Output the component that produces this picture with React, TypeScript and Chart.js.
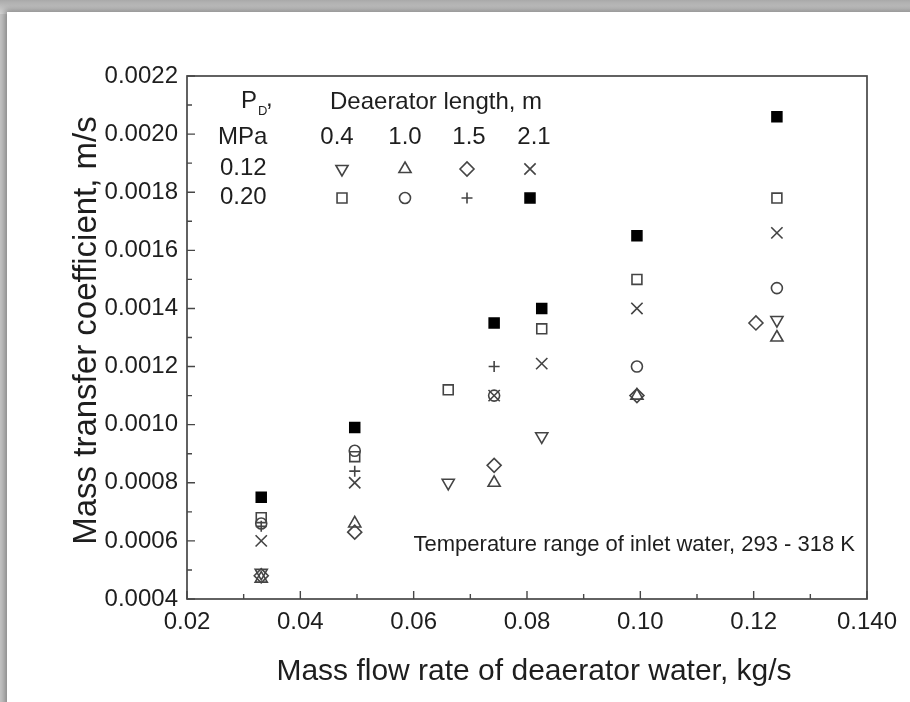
import React, { useEffect, useRef } from 'react';
import { Chart, registerables } from 'chart.js';
import { drawPoint } from 'chart.js/helpers';

Chart.register(...registerables);

// ---- axes ----
const xTickValues = [0.02, 0.04, 0.06, 0.08, 0.1, 0.12, 0.14];
const xTickLabels = ['0.02', '0.04', '0.06', '0.08', '0.10', '0.12', '0.140'];
const xMinorValues = [0.03, 0.05, 0.07, 0.09, 0.11, 0.13];
const yTickValues = [0.0004, 0.0006, 0.0008, 0.001, 0.0012, 0.0014, 0.0016, 0.0018, 0.002, 0.0022];
const yTickLabels = ['0.0004', '0.0006', '0.0008', '0.0010', '0.0012', '0.0014', '0.0016', '0.0018', '0.0020', '0.0022'];
const yMinorValues = [0.0005, 0.0007, 0.0009, 0.0011, 0.0013, 0.0015, 0.0017, 0.0019, 0.0021];

const xTitle = 'Mass flow rate of deaerator water, kg/s';
const yTitle = 'Mass transfer coefficient, m/s';
const noteText = 'Temperature range of inlet water, 293 - 318 K';

// ---- legend table text ----
const lengthHeader = 'Deaerator length, m';
const lengthLabels = ['0.4', '1.0', '1.5', '2.1'];
const pressureLabels = ['0.12', '0.20'];

// ---- data: P_D = 0.12 MPa ----
const p012_L04 = [
  { x: 0.0331, y: 0.00049 },
  { x: 0.0661, y: 0.0008 },
  { x: 0.0826, y: 0.00096 },
  { x: 0.1241, y: 0.00136 },
];
const p012_L10 = [
  { x: 0.0331, y: 0.00047 },
  { x: 0.0496, y: 0.00066 },
  { x: 0.0742, y: 0.0008 },
  { x: 0.0994, y: 0.0011 },
  { x: 0.1241, y: 0.0013 },
];
const p012_L15 = [
  { x: 0.0331, y: 0.00048 },
  { x: 0.0496, y: 0.00063 },
  { x: 0.0742, y: 0.00086 },
  { x: 0.0994, y: 0.0011 },
  { x: 0.1204, y: 0.00135 },
];
const p012_L21 = [
  { x: 0.0331, y: 0.0006 },
  { x: 0.0496, y: 0.0008 },
  { x: 0.0742, y: 0.0011 },
  { x: 0.0826, y: 0.00121 },
  { x: 0.0994, y: 0.0014 },
  { x: 0.1241, y: 0.00166 },
];
// ---- data: P_D = 0.20 MPa ----
const p020_L04 = [
  { x: 0.0331, y: 0.00068 },
  { x: 0.0496, y: 0.00089 },
  { x: 0.0661, y: 0.00112 },
  { x: 0.0826, y: 0.00133 },
  { x: 0.0994, y: 0.0015 },
  { x: 0.1241, y: 0.00178 },
];
const p020_L10 = [
  { x: 0.0331, y: 0.00066 },
  { x: 0.0496, y: 0.00091 },
  { x: 0.0742, y: 0.0011 },
  { x: 0.0994, y: 0.0012 },
  { x: 0.1241, y: 0.00147 },
];
const p020_L15 = [
  { x: 0.0331, y: 0.00065 },
  { x: 0.0496, y: 0.00084 },
  { x: 0.0742, y: 0.0012 },
];
const p020_L21 = [
  { x: 0.0331, y: 0.00075 },
  { x: 0.0496, y: 0.00099 },
  { x: 0.0742, y: 0.00135 },
  { x: 0.0826, y: 0.0014 },
  { x: 0.0994, y: 0.00165 },
  { x: 0.1241, y: 0.00206 },
];

const FONT = "'Liberation Sans', Arial, sans-serif";
const TEXT = '#1e1e1e';
const MARK = '#444444';
const AXIS = '#474747';

const mk = (label: string, data: any[], pointStyle: string, radius: number, rotation = 0, filled = false) => ({
  label,
  data,
  pointStyle,
  rotation,
  pointRadius: radius,
  pointHoverRadius: radius,
  pointBorderWidth: 1.6,
  pointBorderColor: filled ? '#000' : MARK,
  pointBackgroundColor: filled ? '#000' : 'rgba(0,0,0,0)',
  showLine: false,
});

const findLabel = (vals: number[], labels: string[], v: number) => {
  const i = vals.findIndex((t) => Math.abs(t - v) < 1e-9);
  return i >= 0 ? labels[i] : '';
};

const decorPlugin = {
  id: 'decor',
  afterDraw(chart: any) {
    const { ctx, chartArea: ca, scales } = chart;
    const xs = scales.x;
    const ys = scales.y;
    ctx.save();
    // frame
    ctx.strokeStyle = AXIS;
    ctx.lineWidth = 1.7;
    ctx.strokeRect(ca.left, ca.top, ca.right - ca.left, ca.bottom - ca.top);
    // inward ticks
    ctx.lineWidth = 1.4;
    ctx.beginPath();
    xTickValues.forEach((v) => {
      const px = xs.getPixelForValue(v);
      ctx.moveTo(px, ca.bottom);
      ctx.lineTo(px, ca.bottom - 8);
    });
    xMinorValues.forEach((v) => {
      const px = xs.getPixelForValue(v);
      ctx.moveTo(px, ca.bottom);
      ctx.lineTo(px, ca.bottom - 5);
    });
    yTickValues.forEach((v) => {
      const py = ys.getPixelForValue(v);
      ctx.moveTo(ca.left, py);
      ctx.lineTo(ca.left + 8, py);
    });
    yMinorValues.forEach((v) => {
      const py = ys.getPixelForValue(v);
      ctx.moveTo(ca.left, py);
      ctx.lineTo(ca.left + 5, py);
    });
    ctx.stroke();

    // axis titles
    ctx.fillStyle = TEXT;
    ctx.save();
    ctx.translate(ca.left - 100, (ca.top + ca.bottom) / 2 - 7);
    ctx.rotate(-Math.PI / 2);
    ctx.textAlign = 'center';
    ctx.textBaseline = 'middle';
    ctx.font = `33px ${FONT}`;
    ctx.fillText(yTitle, 0, 0);
    ctx.restore();
    ctx.textAlign = 'center';
    ctx.textBaseline = 'middle';
    ctx.font = `30px ${FONT}`;
    ctx.fillText(xTitle, (ca.left + ca.right) / 2 + 7, ca.bottom + 73);

    // legend table
    const L = ca.left;
    const T = ca.top;
    ctx.fillStyle = TEXT;
    ctx.textBaseline = 'middle';
    ctx.textAlign = 'left';
    ctx.font = `24px ${FONT}`;
    ctx.fillText('P', L + 54, T + 25);
    ctx.font = `13px ${FONT}`;
    ctx.fillText('D', L + 71, T + 35);
    ctx.font = `24px ${FONT}`;
    ctx.fillText(',', L + 79, T + 23);
    ctx.fillText(lengthHeader, L + 143, T + 26);
    ctx.fillText('MPa', L + 31, T + 61);
    ctx.textAlign = 'center';
    const colX = [342, 405, 467, 530].map((c) => c - 187 + L);
    const colTextX = [337, 405, 469, 534].map((c) => c - 187 + L);
    lengthLabels.forEach((t, i) => ctx.fillText(t, colTextX[i], T + 61));
    ctx.textAlign = 'left';
    const rowY = [T + 92, T + 121];
    pressureLabels.forEach((t, r) => ctx.fillText(t, L + 33, rowY[r]));

    chart.data.datasets.forEach((ds: any, i: number) => {
      const r = Math.floor(i / 4);
      const c = i % 4;
      ctx.save();
      ctx.strokeStyle = ds.pointBorderColor;
      ctx.fillStyle = ds.pointBackgroundColor;
      ctx.lineWidth = ds.pointBorderWidth;
      drawPoint(ctx, { pointStyle: ds.pointStyle, rotation: ds.rotation, radius: ds.pointRadius, borderWidth: ds.pointBorderWidth }, colX[c], rowY[r] + 1);
      ctx.restore();
    });

    // note
    ctx.fillStyle = TEXT;
    ctx.textAlign = 'right';
    ctx.font = `22px ${FONT}`;
    ctx.fillText(noteText, ca.right - 12, ys.getPixelForValue(0.0004) - 54);
    ctx.restore();
  },
};

export default function App() {
  const ref = useRef<HTMLCanvasElement | null>(null);
  useEffect(() => {
    if (!ref.current) return;
    const chart = new Chart(ref.current, {
      type: 'scatter',
      data: {
        datasets: [
          mk('0.12 MPa, 0.4 m', p012_L04, 'triangle', 7, 180),
          mk('0.12 MPa, 1.0 m', p012_L10, 'triangle', 7),
          mk('0.12 MPa, 1.5 m', p012_L15, 'rectRot', 7),
          mk('0.12 MPa, 2.1 m', p012_L21, 'crossRot', 8),
          mk('0.20 MPa, 0.4 m', p020_L04, 'rect', 7),
          mk('0.20 MPa, 1.0 m', p020_L10, 'circle', 5.5),
          mk('0.20 MPa, 1.5 m', p020_L15, 'cross', 5.5),
          mk('0.20 MPa, 2.1 m', p020_L21, 'rect', 7, 0, true),
        ],
      },
      options: {
        responsive: false,
        animation: false,
        devicePixelRatio: 1,
        layout: { padding: { left: 0, top: 76, right: 43, bottom: 0 } },
        plugins: { legend: { display: false }, tooltip: { enabled: false } },
        scales: {
          x: {
            type: 'linear',
            min: 0.02,
            max: 0.14,
            afterBuildTicks: (s: any) => {
              s.ticks = xTickValues.map((v) => ({ value: v }));
            },
            afterFit: (s: any) => {
              s.height = 103;
            },
            grid: { display: false, drawTicks: false },
            border: { display: false },
            ticks: {
              autoSkip: false,
              maxRotation: 0,
              padding: 9,
              color: TEXT,
              font: { family: FONT, size: 24 },
              callback: (v: any) => findLabel(xTickValues, xTickLabels, Number(v)),
            },
            title: { display: false },
          },
          y: {
            type: 'linear',
            min: 0.0004,
            max: 0.0022,
            afterBuildTicks: (s: any) => {
              s.ticks = yTickValues.map((v) => ({ value: v }));
            },
            afterFit: (s: any) => {
              s.width = 187;
            },
            grid: { display: false, drawTicks: false },
            border: { display: false },
            ticks: {
              autoSkip: false,
              padding: 9,
              color: TEXT,
              font: { family: FONT, size: 24 },
              callback: (v: any) => findLabel(yTickValues, yTickLabels, Number(v)),
            },
            title: { display: false },
          },
        },
      },
      plugins: [decorPlugin],
    } as any);
    return () => chart.destroy();
  }, []);

  return (
    <div style={{ position: 'fixed', left: 0, top: 0, width: 910, height: 702, overflow: 'hidden', background: '#c4c4c4' }}>
      <div
        style={{
          position: 'absolute',
          left: 0,
          top: 0,
          width: 910,
          height: 14,
          background: 'linear-gradient(to bottom, #a9a9a9, #d6d6d6)',
        }}
      />
      <div
        style={{
          position: 'absolute',
          left: 7,
          top: 12,
          width: 920,
          height: 710,
          background: '#ffffff',
          boxShadow: '-2px -2px 6px rgba(0,0,0,0.35)',
        }}
      />
      <canvas ref={ref} width={910} height={702} style={{ position: 'absolute', left: 0, top: 0, width: 910, height: 702 }} />
    </div>
  );
}
